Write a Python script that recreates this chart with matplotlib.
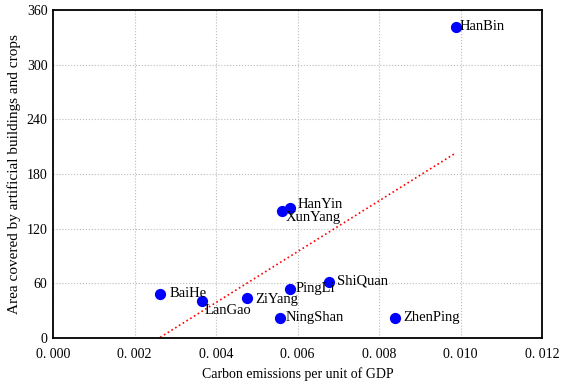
import matplotlib.pyplot as plt
import numpy as np

plt.rcParams['font.family'] = ['Liberation Serif', 'DejaVu Serif']

names = ['HanBin', 'HanYin', 'XunYang', 'ShiQuan', 'PingLi',
         'BaiHe', 'LanGao', 'ZiYang', 'NingShan', 'ZhenPing']
carbon = [0.00988, 0.00582, 0.00561, 0.00677, 0.00581,
          0.00263, 0.00366, 0.00475, 0.00557, 0.00838]
area = [341.7, 142.4, 139.7, 61.1, 53.8, 48.6, 40.3, 43.9, 22.3, 22.3]

xticks = [0.000, 0.002, 0.004, 0.006, 0.008, 0.010, 0.012]
xtick_labels = ['0. 000', '0. 002', '0. 004', '0. 006', '0. 008', '0. 010', '0. 012']
yticks = [0, 60, 120, 180, 240, 300, 360]

# label offsets in points (dx, dy)
offsets = {
    'HanBin': (3, 0), 'HanYin': (5, 3), 'XunYang': (3, -5), 'ShiQuan': (6, 1),
    'PingLi': (4, 0), 'BaiHe': (7, 0), 'LanGao': (2, -7), 'ZiYang': (6, -1),
    'NingShan': (4, 0), 'ZhenPing': (6, 0),
}

fig = plt.figure(figsize=(5.61, 3.85), dpi=100)
ax = fig.add_axes([0.0945, 0.1221, 0.8717, 0.852])

ax.scatter(carbon, area, s=50, color='#0000ff', zorder=3)

# linear trend over the data range
k, b = np.polyfit(carbon, area, 1)
xs = np.array([min(carbon), max(carbon)])
ax.plot(xs, k * xs + b, linestyle=':', color='red', linewidth=1.2, zorder=2)

for n, x, y in zip(names, carbon, area):
    ax.annotate(n, (x, y), xytext=offsets[n], textcoords='offset points',
                ha='left', va='center', fontsize=10.5)

ax.set_xlim(0, 0.012)
ax.set_ylim(0, 360)
ax.set_xticks(xticks)
ax.set_xticklabels(xtick_labels)
ax.set_yticks(yticks)
ax.tick_params(length=0, labelsize=10)
ax.tick_params(axis='x', pad=7)
ax.tick_params(axis='y', pad=4)
ax.grid(True, linestyle=':', color='#bbbbbb', linewidth=0.8)
for s in ax.spines.values():
    s.set_linewidth(1.3)

ax.set_xlabel('Carbon emissions per unit of GDP', fontsize=10, labelpad=5)
ax.set_ylabel('Area covered by artificial buildings and crops', fontsize=11, labelpad=4)

fig.savefig('out.png', dpi=100)
